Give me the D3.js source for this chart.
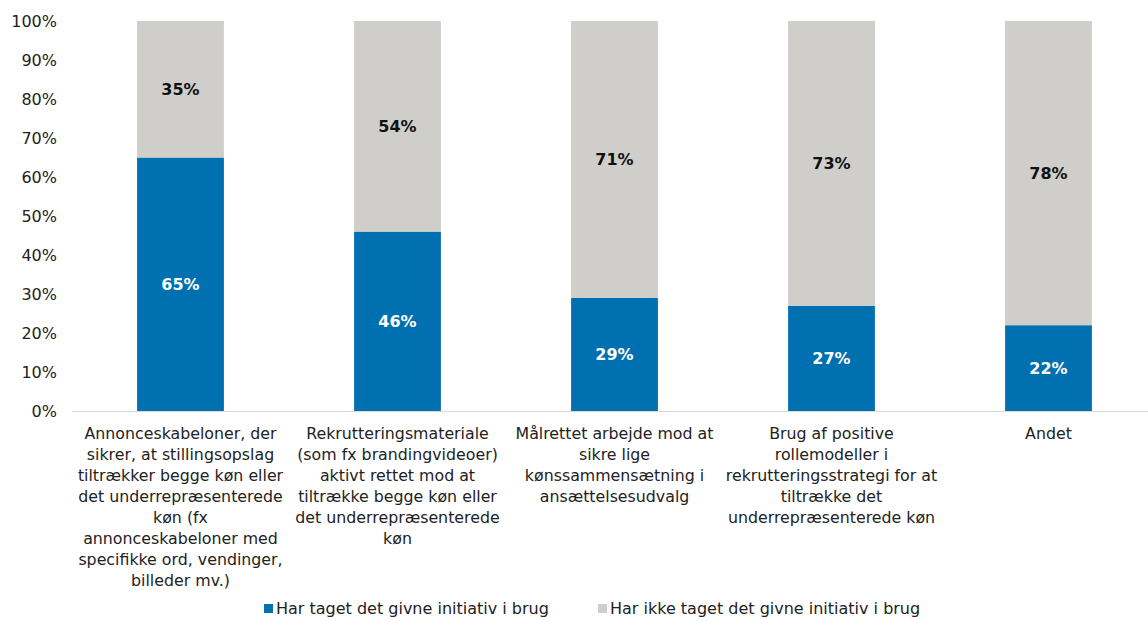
<!DOCTYPE html>
<html><head><meta charset="utf-8">
<script src="https://cdn.jsdelivr.net/npm/d3@7"></script>
<style>body{margin:0;background:#fff}svg{display:block}text{font-family:"DejaVu Sans",Verdana,sans-serif}</style>
</head><body><svg id="c" width="1148" height="620"></svg>
<script>
const categories = [
  "Annonceskabeloner, der\nsikrer, at stillingsopslag\ntiltrækker begge køn eller\ndet underrepræsenterede\nkøn (fx\nannonceskabeloner med\nspecifikke ord, vendinger,\nbilleder mv.)",
  "Rekrutteringsmateriale\n(som fx brandingvideoer)\naktivt rettet mod at\ntiltrække begge køn eller\ndet underrepræsenterede\nkøn",
  "Målrettet arbejde mod at\nsikre lige\nkønssammensætning i\nansættelsesudvalg",
  "Brug af positive\nrollemodeller i\nrekrutteringsstrategi for at\ntiltrække det\nunderrepræsenterede køn",
  "Andet"
];
const seriesNames = ["Har taget det givne initiativ i brug", "Har ikke taget det givne initiativ i brug"];
const used = [65, 46, 29, 27, 22];
const notUsed = [35, 54, 71, 73, 78];
const yTicks = [0,10,20,30,40,50,60,70,80,90,100];
const colors = ["#0070B0", "#D0CECA"];

const svg = d3.select("#c");
const x = d3.scaleBand().domain(categories).range([72, 1157]).paddingInner(0.6).paddingOuter(0.3);
const y = d3.scaleLinear().domain([0,100]).range([411, 21]);

svg.append("g").selectAll("text").data(yTicks).join("text")
  .attr("x", 57).attr("y", d => y(d)).attr("dy","0.35em").attr("text-anchor","end")
  .attr("font-size", 16).attr("fill","#222").text(d => d + "%");

svg.append("line").attr("x1",72).attr("x2",1148).attr("y1",y(0)+0.5).attr("y2",y(0)+0.5).attr("stroke","#d9d9d9").attr("stroke-width",1);

const data = categories.map((c,i)=>({c, a:used[i], b:notUsed[i]}));
const g = svg.append("g");
g.selectAll("rect.a").data(data).join("rect").attr("class","a")
  .attr("x", d=>x(d.c)).attr("width", x.bandwidth())
  .attr("y", d=>y(d.a)).attr("height", d=>y(0)-y(d.a)).attr("fill", colors[0]);
g.selectAll("rect.b").data(data).join("rect").attr("class","b")
  .attr("x", d=>x(d.c)).attr("width", x.bandwidth())
  .attr("y", d=>y(d.a+d.b)).attr("height", d=>y(d.a)-y(d.a+d.b)).attr("fill", colors[1]);

g.selectAll("text.la").data(data).join("text").attr("class","la")
  .attr("x", d=>x(d.c)+x.bandwidth()/2).attr("y", d=>y(d.a/2)).attr("dy","0.35em")
  .attr("text-anchor","middle").attr("font-size",16).attr("font-weight","bold").attr("fill","#fff")
  .text(d=>d.a+"%");
g.selectAll("text.lb").data(data).join("text").attr("class","lb")
  .attr("x", d=>x(d.c)+x.bandwidth()/2).attr("y", d=>y(d.a+d.b/2)).attr("dy","0.35em")
  .attr("text-anchor","middle").attr("font-size",16).attr("font-weight","bold").attr("fill","#111")
  .text(d=>d.b+"%");

const cl = svg.append("g").selectAll("text").data(categories).join("text")
  .attr("x", d=>x(d)+x.bandwidth()/2).attr("y", 439)
  .attr("text-anchor","middle").attr("fill","#222")
  .attr("font-size", 15.8);
cl.each(function(d){
  const t = d3.select(this);
  d.split("\n").forEach((line,i)=>{
    t.append("tspan").attr("x", x(d)+x.bandwidth()/2).attr("dy", i===0?0:21).text(line);
  });
});

const leg = svg.append("g");
const legX = [264, 598];
seriesNames.forEach((s,i)=>{
  leg.append("rect").attr("x",legX[i]).attr("y",604).attr("width",9).attr("height",9).attr("fill",colors[i]);
  leg.append("text").attr("x",legX[i]+12).attr("y",608).attr("dy","0.35em").attr("font-size",16).attr("fill","#222").text(s);
});
</script></body></html>
